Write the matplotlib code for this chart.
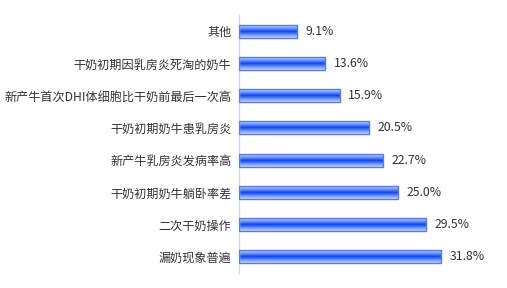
"Horizontal bar chart with gradient bars"

import matplotlib.pyplot as plt
import numpy as np
from matplotlib.colors import LinearSegmentedColormap

plt.rcParams['font.family'] = ['Noto Sans CJK SC', 'DejaVu Sans']

# data (top to bottom)
categories = ["其他", "干奶初期因乳房炎死淘的奶牛", "新产牛首次DHI体细胞比干奶前最后一次高",
              "干奶初期奶牛患乳房炎", "新产牛乳房炎发病率高", "干奶初期奶牛躺卧率差",
              "二次干奶操作", "漏奶现象普遍"]
values = [9.1, 13.6, 15.9, 20.5, 22.7, 25.0, 29.5, 31.8]

fig = plt.figure(figsize=(5.07, 2.88), dpi=100)
ax = fig.add_axes([239 / 507, 15 / 288, 251 / 507, 258 / 288])

y = np.arange(len(categories))
bar_h = 0.4

# gradient: light at top/bottom, strong blue in the middle
cmap = LinearSegmentedColormap.from_list(
    "bar", ["#c8d6ff", "#6f93ff", "#0a45f0", "#6f93ff", "#c8d6ff"])
grad = np.linspace(0, 1, 64).reshape(-1, 1)

bars = ax.barh(y, values, height=bar_h, color="none",
               edgecolor="#4f7ff2", linewidth=1.0, zorder=3)
for b in bars:
    x0, y0 = b.get_x(), b.get_y()
    w, h = b.get_width(), b.get_height()
    im = ax.imshow(grad, cmap=cmap, aspect="auto",
                   extent=[x0, x0 + w, y0, y0 + h], zorder=2)
    im.set_clip_path(b)

for yi, v in zip(y, values):
    ax.text(v + 1.3, yi, f"{v:.1f}%", va="center", ha="left",
            fontsize=8.8, color="#333333")

ax.set_xlim(0, 39.5)
ax.set_ylim(len(categories) - 0.5, -0.5)
ax.set_yticks(y)
ax.set_yticklabels(categories, fontsize=8.7, color="#333333")
ax.tick_params(axis="y", length=0, pad=5.5)
ax.set_xticks([])
for s in ["top", "right", "bottom"]:
    ax.spines[s].set_visible(False)
ax.spines["left"].set_color("#d9d9d9")
ax.spines["left"].set_linewidth(1.0)

fig.savefig("out.png", dpi=100)
